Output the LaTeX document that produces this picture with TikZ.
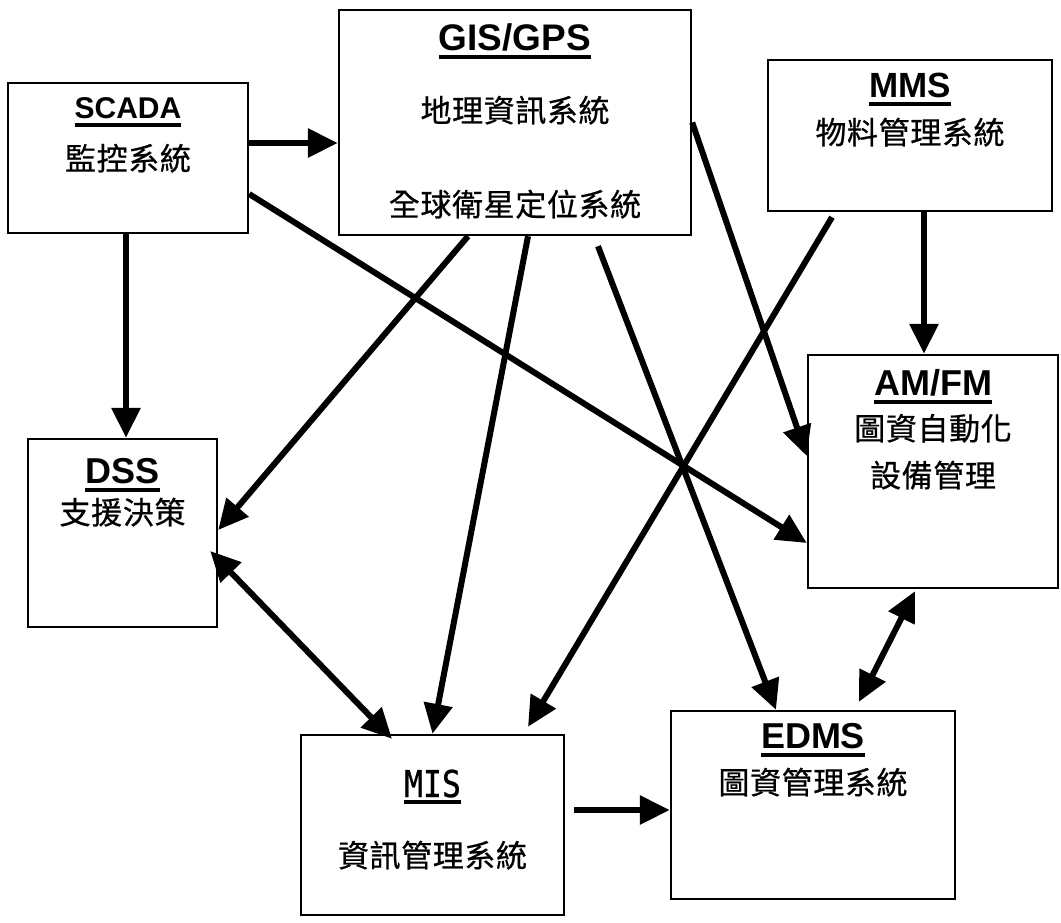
\documentclass[tikz,border=0pt]{standalone}
\usepackage{fontspec}
\setmainfont{Liberation Sans}
\newfontfamily\cjk{Noto Sans CJK TC}[LetterSpace=2,FakeBold=0.6]
\newfontfamily\monof{DejaVu Sans Mono}[FakeStretch=0.85,FakeBold=0.8]
\usetikzlibrary{arrows.meta,calc}

% heading with a heavy underline
\newcommand\ulbar[2]{\sbox0{#2}\makebox[0pt][l]{\usebox0}\rule[#1]{\wd0}{4pt}}
\newcommand\ttl[2]{\fontsize{#1}{#1}\selectfont\bfseries\ulbar{-8.5pt}{#2}}
\newcommand\zh[1]{\cjk\fontsize{31pt}{36pt}\selectfont #1}

\begin{document}
\begin{tikzpicture}[x=1pt,y=-1pt,
  box/.style={draw, line width=2.4pt, inner sep=0pt},
  lbl/.style={anchor=base, inner sep=0pt},
  conn/.style={line width=6pt, -{Triangle[length=30pt,width=28pt]}},
  biconn/.style={line width=6pt, {Triangle[length=30pt,width=28pt]}-{Triangle[length=30pt,width=28pt]}}]

\useasboundingbox (0,0) rectangle (1061,922);

% system boxes
\node[box, minimum width=240pt, minimum height=150pt] (scada) at (128,158) {};
\node[box, minimum width=352pt, minimum height=225pt] (gis) at (515,122.5) {};
\node[box, minimum width=284pt, minimum height=151pt] (mms) at (910,135.5) {};
\node[box, minimum width=250pt, minimum height=233pt] (amfm) at (933,471.5) {};
\node[box, minimum width=189pt, minimum height=188pt] (dss) at (122.5,533) {};
\node[box, minimum width=263pt, minimum height=180pt] (mis) at (432.5,825) {};
\node[box, minimum width=284pt, minimum height=188pt] (edms) at (813,805) {};

% box texts
\node[lbl] (scadaT) at (128,118) {\ttl{30pt}{SCADA}};
\node[lbl] (scadaC) at (128,170) {\zh{監控系統}};

\node[lbl] (gisT) at (515,50) {\ttl{37pt}{GIS/GPS}};
\node[lbl] (gisC1) at (515,122) {\zh{地理資訊系統}};
\node[lbl] (gisC2) at (515,216) {\zh{全球衛星定位系統}};

\node[lbl] (mmsT) at (910,97) {\ttl{35pt}{MMS}};
\node[lbl] (mmsC) at (910,144) {\zh{物料管理系統}};

\node[lbl] (amfmT) at (933,395) {\ttl{36pt}{AM/FM}};
\node[lbl] (amfmC1) at (933,440) {\zh{圖資自動化}};
\node[lbl] (amfmC2) at (933,487) {\zh{設備管理}};

\node[lbl] (dssT) at (122.5,483) {\ttl{36pt}{DSS}};
\node[lbl] (dssC) at (122.5,524) {\zh{支援決策}};

\node[lbl] (misT) at (432.5,797) {\monof\fontsize{37pt}{37pt}\selectfont\ulbar{-6.5pt}{MIS}};
\node[lbl] (misC) at (432.5,867) {\zh{資訊管理系統}};

\node[lbl] (edmsT) at (813,748) {\ttl{36pt}{EDMS}};
\node[lbl] (edmsC) at (813,794) {\zh{圖資管理系統}};

% data flows
\draw[conn] (scada.east |- 0,143) -- (gis.west |- 0,143);
\draw[conn] ([xshift=-2pt]scada.south) -- ([xshift=-2pt]scada.south |- dss.north);
\draw[conn] ([yshift=-36pt]scada.east) -- ([yshift=-71.5pt]amfm.west);
\draw[conn] ([xshift=-47pt]gis.south) -- ([yshift=3pt]dss.east);
\draw[conn] ([xshift=13pt]gis.south) -- (mis.north);
\draw[conn] ([xshift=83pt,yshift=-10pt]gis.south) -- ([xshift=-37pt]edms.north);
\draw[conn] (gis.east) -- ([yshift=15.5pt]amfm.west);
\draw[conn] ([xshift=-78pt,yshift=-5pt]mms.south) -- ([xshift=95.5pt,yshift=7pt]mis.north);
\draw[conn] ([xshift=14pt]mms.south) -- ([xshift=14pt]mms.south |- amfm.north);
\draw[biconn] ([xshift=-8pt,yshift=-18pt]dss.east) -- ([xshift=-40.5pt,yshift=-5pt]mis.north);
\draw[biconn] ([xshift=-18pt,yshift=-2pt]amfm.south) -- ([xshift=46pt,yshift=8pt]edms.north);
\draw[conn] ([xshift=9pt,yshift=15pt]mis.east) -- ([yshift=-5pt]edms.west);
\end{tikzpicture}
\end{document}
